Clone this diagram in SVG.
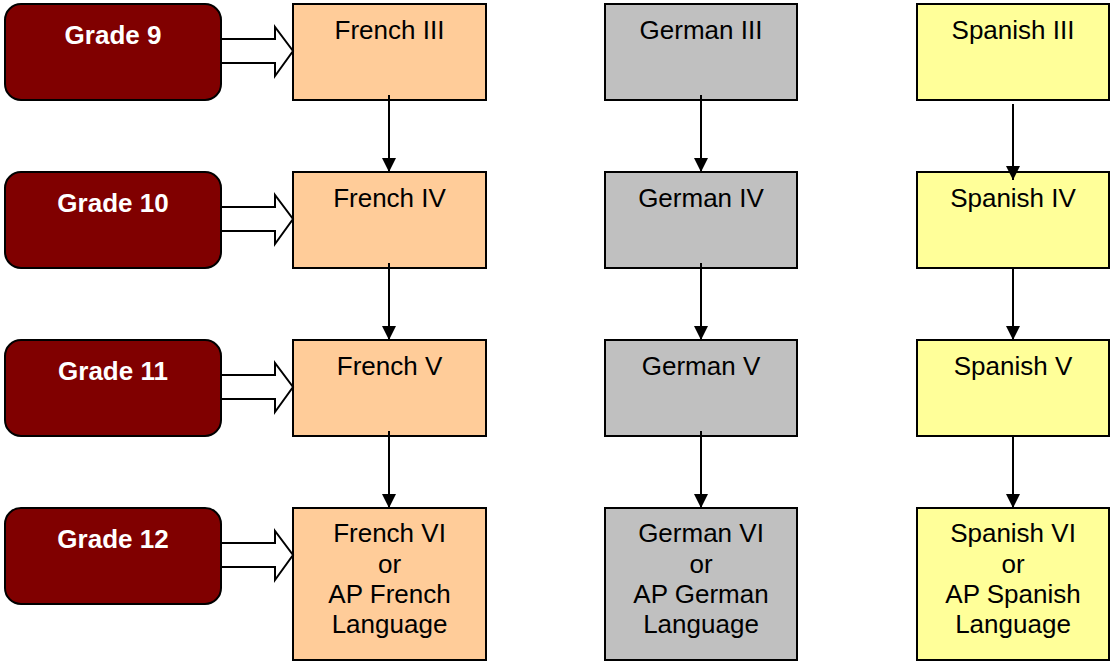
<svg xmlns="http://www.w3.org/2000/svg" width="1111" height="663" viewBox="0 0 1111 663">
<style>
.grade{fill:#800000;stroke:#000;stroke-width:2}
.gt{font-family:"Liberation Sans",Arial,sans-serif;font-weight:bold;font-size:26px;fill:#fff;text-anchor:middle}
.fr{fill:#FFCC99;stroke:#000;stroke-width:2}
.de{fill:#C0C0C0;stroke:#000;stroke-width:2}
.es{fill:#FFFF99;stroke:#000;stroke-width:2}
.t{font-family:"Liberation Sans",Arial,sans-serif;font-size:26px;fill:#000;text-anchor:middle}
.blk{fill:#fff;stroke:#000;stroke-width:2;stroke-linejoin:miter}
.ln{stroke:#000;stroke-width:2;fill:none}
</style>
<defs>
<marker id="ah" viewBox="0 0 14 14" refX="14" refY="7" markerWidth="14" markerHeight="14" markerUnits="userSpaceOnUse" orient="auto">
<path d="M0,0 L14,7 L0,14 Z" fill="#000"/>
</marker>
</defs>
<g id="grade9"><rect class="grade" x="5" y="4" width="216" height="96" rx="16"/><text class="gt" x="113" y="44">Grade 9</text></g>
<g id="grade10"><rect class="grade" x="5" y="172" width="216" height="96" rx="16"/><text class="gt" x="113" y="212">Grade 10</text></g>
<g id="grade11"><rect class="grade" x="5" y="340" width="216" height="96" rx="16"/><text class="gt" x="113" y="380">Grade 11</text></g>
<g id="grade12"><rect class="grade" x="5" y="508" width="216" height="96" rx="16"/><text class="gt" x="113" y="548">Grade 12</text></g>
<g id="french3"><rect class="fr" x="293" y="4" width="193" height="96"/><text class="t" x="389.5" y="39">French III</text></g>
<g id="french4"><rect class="fr" x="293" y="172" width="193" height="96"/><text class="t" x="389.5" y="207">French IV</text></g>
<g id="french5"><rect class="fr" x="293" y="340" width="193" height="96"/><text class="t" x="389.5" y="375">French V</text></g>
<g id="french6"><rect class="fr" x="293" y="508" width="193" height="152"/><text class="t" x="389.5" y="542">French VI</text><text class="t" x="389.5" y="573">or</text><text class="t" x="389.5" y="603">AP French</text><text class="t" x="389.5" y="633">Language</text></g>
<g id="german3"><rect class="de" x="605" y="4" width="192" height="96"/><text class="t" x="701" y="39">German III</text></g>
<g id="german4"><rect class="de" x="605" y="172" width="192" height="96"/><text class="t" x="701" y="207">German IV</text></g>
<g id="german5"><rect class="de" x="605" y="340" width="192" height="96"/><text class="t" x="701" y="375">German V</text></g>
<g id="german6"><rect class="de" x="605" y="508" width="192" height="152"/><text class="t" x="701" y="542">German VI</text><text class="t" x="701" y="573">or</text><text class="t" x="701" y="603">AP German</text><text class="t" x="701" y="633">Language</text></g>
<g id="spanish3"><rect class="es" x="917" y="4" width="192" height="96"/><text class="t" x="1013" y="39">Spanish III</text></g>
<g id="spanish4"><rect class="es" x="917" y="172" width="192" height="96"/><text class="t" x="1013" y="207">Spanish IV</text></g>
<g id="spanish5"><rect class="es" x="917" y="340" width="192" height="96"/><text class="t" x="1013" y="375">Spanish V</text></g>
<g id="spanish6"><rect class="es" x="917" y="508" width="192" height="152"/><text class="t" x="1013" y="542">Spanish VI</text><text class="t" x="1013" y="573">or</text><text class="t" x="1013" y="603">AP Spanish</text><text class="t" x="1013" y="633">Language</text></g>
<g id="connectors">
<path class="blk" d="M221,39 H275 V27 L293,51 L275,76 V63 H221 Z"/>
<path class="blk" d="M221,207 H275 V195 L293,219 L275,244 V231 H221 Z"/>
<path class="blk" d="M221,375 H275 V363 L293,387 L275,412 V399 H221 Z"/>
<path class="blk" d="M221,543 H275 V531 L293,555 L275,580 V567 H221 Z"/>
<line class="ln" x1="389" y1="95" x2="389" y2="172" marker-end="url(#ah)"/>
<line class="ln" x1="389" y1="263" x2="389" y2="340" marker-end="url(#ah)"/>
<line class="ln" x1="389" y1="431" x2="389" y2="508" marker-end="url(#ah)"/>
<line class="ln" x1="701" y1="95" x2="701" y2="172" marker-end="url(#ah)"/>
<line class="ln" x1="701" y1="263" x2="701" y2="340" marker-end="url(#ah)"/>
<line class="ln" x1="701" y1="431" x2="701" y2="508" marker-end="url(#ah)"/>
<line class="ln" x1="1013" y1="104" x2="1013" y2="180" marker-end="url(#ah)"/>
<line class="ln" x1="1013" y1="268" x2="1013" y2="340" marker-end="url(#ah)"/>
<line class="ln" x1="1013" y1="436" x2="1013" y2="508" marker-end="url(#ah)"/>
</g>
</svg>
